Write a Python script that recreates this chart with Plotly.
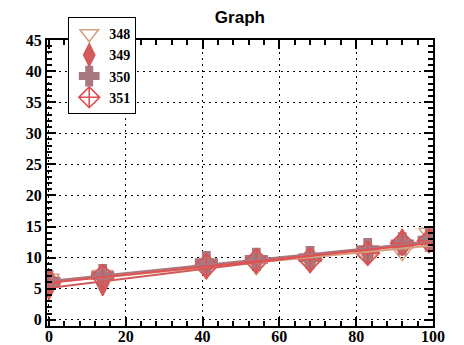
import numpy as np
import plotly.graph_objects as go

x_vals = [0, 14, 41, 54, 68, 83, 92, 99]
s348 = [6.6, 7.2, 8.0, 8.7, 9.0, 10.2, 11.0, 14.0]
s349 = [5.3, 5.9, 8.6, 9.4, 9.6, 10.8, 12.6, 12.9]
s350 = [6.2, 7.1, 9.2, 9.7, 10.0, 11.3, 12.2, 12.8]
s351 = [6.0, 7.0, 8.7, 9.5, 9.7, 10.7, 12.3, 12.7]
names = ["348", "349", "350", "351"]
colors = ["#d4a080", "#d25a5a", "#a87880", "#e05050"]
symbols = ["triangle-down-open", "diamond-tall", "cross", "diamond-cross-open"]
series = [s348, s349, s350, s351]

fig = go.Figure()
for name, ys, col, sym in zip(names, series, colors, symbols):
    fig.add_trace(go.Scatter(
        x=x_vals, y=ys, mode="markers", name=name,
        marker=dict(symbol=sym, size=18, color=col, line=dict(width=1.6, color=col)),
    ))
for name, ys, col in zip(names, series, colors):
    k, b = np.polyfit(x_vals, ys, 1)
    fx = np.array([0.0, 100.0])
    fig.add_trace(go.Scatter(
        x=fx, y=k * fx + b, mode="lines", showlegend=False,
        line=dict(color=col, width=2), hoverinfo="skip",
    ))

tickfont = dict(family="Liberation Serif", size=16, color="black", weight="bold")
axis_common = dict(
    showline=True, linecolor="black", linewidth=2, mirror="allticks",
    ticks="inside", ticklen=9, tickwidth=1.5, tickcolor="black",
    showgrid=True, gridcolor="black", gridwidth=1.4, griddash="2px,4px",
    zeroline=False, tickfont=tickfont, automargin=False,
)
fig.update_xaxes(range=[-0.5, 100], dtick=20, tick0=0, ticklabelstandoff=-5,
                 minor=dict(dtick=4, ticklen=5, ticks="inside", tickcolor="black", showgrid=False),
                 **axis_common)
fig.update_yaxes(range=[-1, 45], dtick=5, tick0=0, ticklabelstandoff=0,
                 minor=dict(dtick=1, ticklen=5, ticks="inside", tickcolor="black", showgrid=False),
                 **axis_common)

fig.update_layout(
    width=464, height=345,
    margin=dict(l=47, r=31, t=40, b=19, autoexpand=False),
    paper_bgcolor="white", plot_bgcolor="white",
    title=dict(text="Graph", x=0.517, xanchor="center", y=0.95, yanchor="middle",
               font=dict(family="Liberation Sans", size=17, color="black", weight="bold")),
    legend=dict(x=0.055, y=1.08, xanchor="left", yanchor="top",
                bgcolor="white", bordercolor="black", borderwidth=1,
                font=dict(family="Liberation Serif", size=14, color="black", weight="bold"),
                tracegroupgap=0, itemwidth=30),
    showlegend=True,
)

fig.write_html("out.html", config={"displayModeBar": False},
               post_script="document.body.style.margin='0';document.body.style.overflow='hidden';")
